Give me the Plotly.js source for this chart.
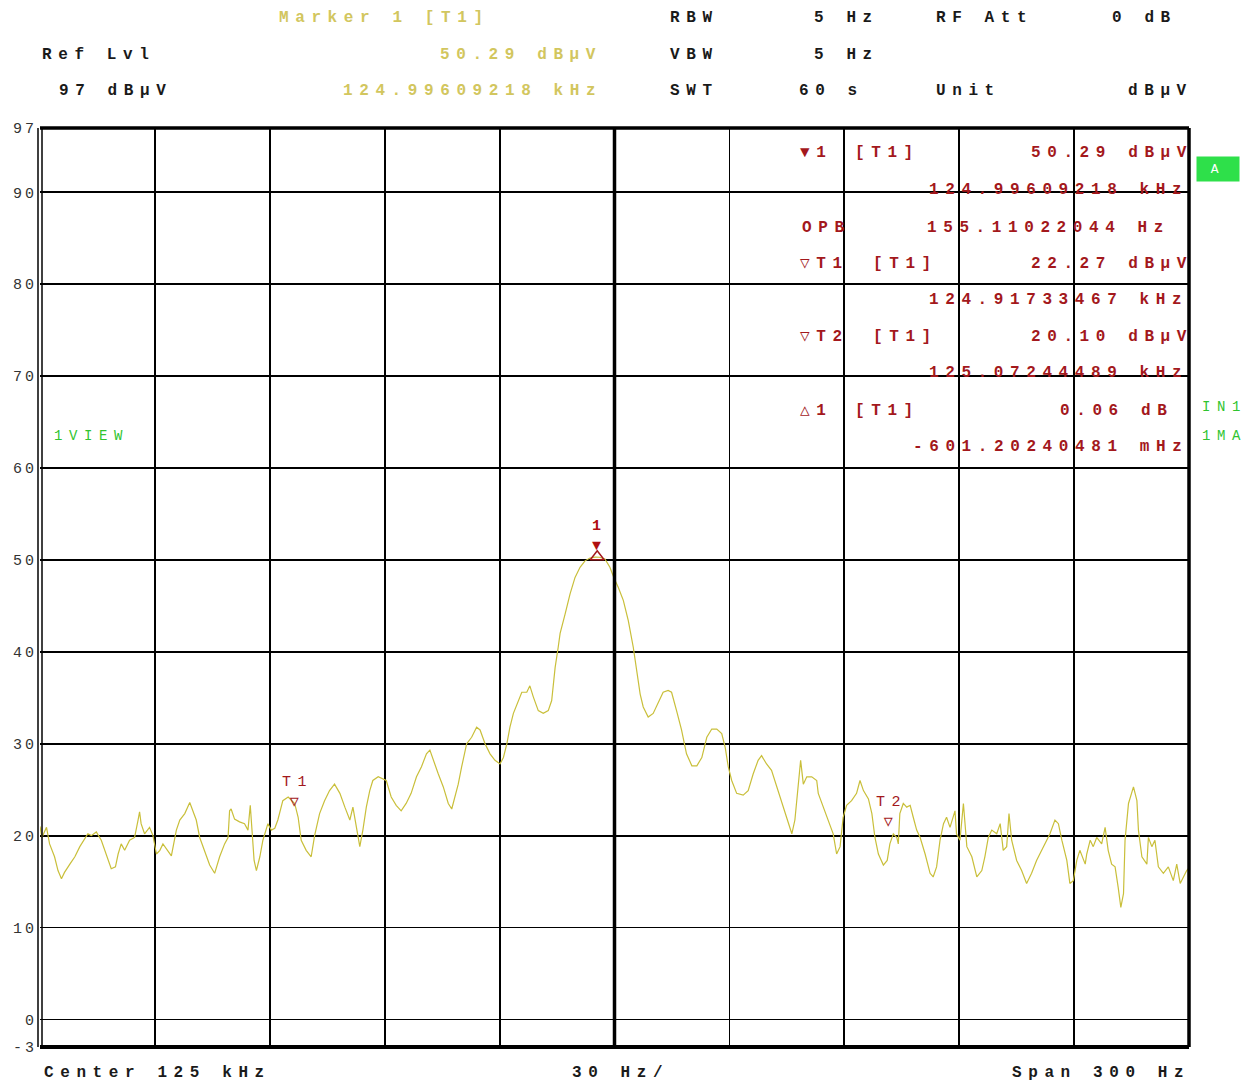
<!DOCTYPE html>
<html><head><meta charset="utf-8">
<script src="https://cdn.plot.ly/plotly-3.0.1.min.js"></script>
<style>
html,body{margin:0;padding:0;background:#fff;}
#chart{width:1247px;height:1086px;}
.annotation-text{letter-spacing:6.6px;}
.ytick text{letter-spacing:3px;}
</style></head><body><div id="chart"></div>
<script>
// Trace: frequency (Hz) and level (dBµV)
const freqHz = [124850.0,124850.5,124851.7,124852.5,124853.8,124854.7,124855.6,124856.4,124857.8,124859.1,124860.4,124861.7,124862.5,124863.4,124864.7,124866.0,124867.3,124868.6,124869.7,124870.4,124871.2,124872.1,124873.4,124874.7,124875.6,124876.0,124876.4,124877.3,124878.6,124879.5,124880.4,124881.3,124882.1,124883.4,124884.3,124885.6,124886.5,124887.8,124889.1,124889.9,124890.8,124891.7,124893.0,124894.3,124895.6,124896.9,124898.2,124899.1,124899.5,124899.9,124900.8,124902.1,124903.4,124904.3,124904.9,124905.2,124905.9,124906.5,124907.4,124908.2,124909.5,124910.4,124911.3,124912.1,124913.4,124914.8,124916.5,124917.4,124918.2,124919.5,124920.8,124921.7,124923.0,124924.3,124925.6,124926.9,124928.3,124929.6,124930.9,124931.7,124932.6,124933.5,124934.3,124935.2,124936.1,124936.9,124938.3,124939.6,124940.4,124941.7,124943.0,124944.3,124945.6,124946.9,124948.3,124949.6,124950.9,
124951.8,124952.7,124954.0,124955.3,124956.6,124957.5,124958.4,124959.2,124960.1,124961.4,124962.7,124964.0,124964.9,124966.2,124967.5,124968.8,124970.1,124971.0,124971.9,124972.7,124973.6,124974.9,124975.8,124977.1,124977.9,124978.8,124980.1,124981.4,124982.7,124983.6,124984.0,124984.5,124985.3,124985.8,124987.1,124988.4,124989.7,124991.0,124992.3,124993.6,124994.9,124996.1,124997.5,124998.8,124999.9,125001.0,125002.3,125003.6,125004.9,125005.8,125006.7,125007.5,125008.8,125010.1,125011.4,125012.7,125014.0,125014.9,125016.2,125017.5,125018.8,125020.2,125021.5,125022.8,125024.1,125025.4,125026.7,125028.0,125028.9,125029.7,125030.6,125031.9,125033.6,125034.9,125036.2,125037.5,125038.4,125039.7,125041.0,125042.4,125043.7,125045.0,125046.3,125047.1,125048.0,125048.6,125049.3,125050.2,125051.5,125052.8,
125053.2,125054.5,125055.8,125057.1,125058.0,125058.9,125059.7,125060.6,125061.9,125063.2,125064.1,125065.0,125066.3,125067.2,125068.0,125068.9,125070.2,125071.2,125071.9,125072.8,125073.7,125074.1,125074.5,125075.4,125076.3,125077.2,125078.0,125078.9,125079.8,125081.1,125082.4,125083.2,125084.1,125085.0,125085.9,125086.7,125087.6,125088.9,125089.3,125090.2,125091.1,125092.0,125093.3,125094.6,125095.9,125096.7,125097.6,125098.5,125099.8,125100.7,125101.5,125102.4,125103.0,125103.7,125105.0,125106.3,125107.6,125108.9,125110.2,125111.5,125112.8,125113.7,125115.0,125115.9,125116.8,125118.1,125118.9,125119.8,125120.7,125121.5,125122.9,125123.3,125124.2,125125.0,125125.9,125127.2,125128.1,125128.9,125129.8,125130.7,125131.5,125132.2,125132.9,125133.3,125134.2,125135.1,125135.5,125136.4,125136.8,125137.7,125139.0,125139.4,125140.3,125141.1,125142.0,125143.3,125144.6,125145.9,125146.8,125147.7,125148.5,125149.4,125150.0];
const levelDbuV = [21.0,19.8,20.9,19.1,17.7,16.2,15.3,16.0,16.9,17.7,18.8,19.7,20.2,20.0,20.4,19.5,18.0,16.4,16.6,18.0,19.1,18.4,19.5,19.8,21.7,22.6,21.3,20.2,20.9,20.0,18.0,18.4,19.1,18.4,17.8,20.6,21.7,22.4,23.6,22.7,21.7,19.8,18.4,16.8,15.9,17.7,19.1,19.8,22.7,22.9,21.8,21.5,21.3,20.6,23.3,21.3,17.3,16.2,17.7,19.5,21.3,20.6,20.8,21.7,23.8,24.2,23.5,22.0,19.5,18.4,17.7,20.0,22.4,23.8,24.9,25.6,24.6,23.1,21.7,23.1,20.9,18.8,20.6,23.1,24.9,26.0,26.4,26.2,26.0,24.2,23.3,22.7,23.5,24.6,26.4,27.5,28.9,
29.3,28.2,26.7,25.3,23.5,22.9,24.2,25.6,27.5,30.0,30.7,31.8,31.5,30.0,28.9,28.2,27.8,28.5,30.0,31.8,33.3,34.7,35.6,35.6,36.3,35.1,33.6,33.3,33.6,34.7,36.2,38.3,40.5,42.0,44.1,46.3,48.1,49.2,49.9,50.2,50.3,50.29,50.1,49.2,48.0,47.0,45.6,43.4,40.5,38.0,35.4,34.0,32.9,33.3,34.4,35.6,35.8,35.6,33.6,31.5,28.9,27.6,27.6,28.5,30.7,31.6,31.6,31.1,29.6,27.5,26.0,24.6,24.4,24.9,26.7,28.2,28.7,27.8,27.1,25.3,23.5,21.7,20.2,21.7,25.3,28.2,25.6,26.4,26.4,26.0,
24.6,23.1,21.7,20.2,18.0,18.8,22.0,23.3,23.8,24.6,26.0,24.9,24.0,22.4,19.8,18.0,16.8,17.3,19.1,20.2,19.8,19.1,22.4,23.5,23.1,23.3,22.0,20.6,19.8,18.0,15.9,15.5,16.6,19.5,21.3,22.0,20.9,22.7,20.2,19.5,23.5,18.8,17.7,15.5,16.2,17.7,19.8,20.6,20.2,21.3,18.4,18.8,22.4,19.5,17.3,16.2,14.8,15.9,17.3,18.4,19.5,20.2,21.7,21.3,19.5,17.3,14.8,15.1,17.3,18.4,16.9,18.0,19.5,18.8,19.8,19.1,20.9,18.4,16.9,16.6,14.4,12.2,13.7,19.5,23.5,24.6,25.3,23.8,20.6,17.7,16.9,19.8,18.8,19.5,16.6,15.9,16.6,15.1,16.9,14.8,15.5,16.2,16.5];

// Markers
const markerFreq = [124996.09218, 124917.33467, 125072.44489];
const markerLevel = [50.29, 22.27, 20.10];
const markerLabel = ['1', 'T1', 'T2'];
const deltaFreq = [124995.49098];
const deltaLevel = [50.35];

// Axis ticks
const xTicks = [124850,124880,124910,124940,124970,125000,125030,125060,125090,125120,125150];
const yTicks = [97,90,80,70,60,50,40,30,20,10,0,-3];
const yTickText = ['97','90','80','70','60','50','40','30','20','10','0','-3'];

const L=40, R=1189, T=128, B=1047;
const X = p => (p-L)/(R-L);
const Y = p => (B-p)/(B-T);
const MONO = 'Liberation Mono, Courier New, monospace';
const BLACK='#1a1a1a', RED='#a3181c', YEL='#d2c65e', GRN='#2fc42f';

function txt(text, px, py, anchor, color, size, bold){
  return {xref:'paper', yref:'paper', x:X(px), y:Y(py), xanchor:anchor, yanchor:'middle',
    text: bold ? '<b>'+text+'</b>' : text, showarrow:false,
    font:{family:MONO, size:size||16, color:color}};
}

const ann = [
  txt('Marker 1 [T1]',277,18,'left',YEL,16,true),
  txt('RBW',668,18,'left',BLACK,16,true),
  txt('5 Hz',812,18,'left',BLACK,16,true),
  txt('RF Att',934,18,'left',BLACK,16,true),
  txt('0 dB',1110,18,'left',BLACK,16,true),
  txt('Ref Lvl',40,55,'left',BLACK,16,true),
  txt('50.29 dBµV',604,55,'right',YEL,16,true),
  txt('VBW',668,55,'left',BLACK,16,true),
  txt('5 Hz',812,55,'left',BLACK,16,true),
  txt('97 dBµV',57,91,'left',BLACK,16,true),
  txt('124.99609218 kHz',604,91,'right',YEL,16,true),
  txt('SWT',668,91,'left',BLACK,16,true),
  txt('60 s',797,91,'left',BLACK,16,true),
  txt('Unit',934,91,'left',BLACK,16,true),
  txt('dBµV',1195,91,'right',BLACK,16,true),

  txt('▼1',798,153,'left',RED,16,true),
  txt('[T1]',853,153,'left',RED,16,true),
  txt('50.29 dBµV',1195,153,'right',RED,16,true),
  txt('124.99609218 kHz',1190,190,'right',RED,16,true),
  txt('OPB',800,228,'left',RED,16,true),
  txt('155.11022044 Hz',1172,228,'right',RED,16,true),
  txt('▽T1',798,264,'left',RED,16,true),
  txt('[T1]',871,264,'left',RED,16,true),
  txt('22.27 dBµV',1195,264,'right',RED,16,true),
  txt('124.91733467 kHz',1190,300,'right',RED,16,true),
  txt('▽T2',798,337,'left',RED,16,true),
  txt('[T1]',871,337,'left',RED,16,true),
  txt('20.10 dBµV',1195,337,'right',RED,16,true),
  txt('125.07244489 kHz',1190,373,'right',RED,16,true),
  txt('△1',798,411,'left',RED,16,true),
  txt('[T1]',853,411,'left',RED,16,true),
  txt('0.06 dB',1175,411,'right',RED,16,true),
  txt('-601.20240481 mHz',1190,447,'right',RED,16,true),

  txt('1VIEW',52,436,'left',GRN,14,false),
  txt('IN1',1200,407,'left',GRN,14,false),
  txt('1MA',1200,436,'left',GRN,14,false),
  {xref:'paper',yref:'paper',x:X(1218),y:Y(169),xanchor:'center',yanchor:'middle',text:'A',showarrow:false,
   bgcolor:'#2ee04a',width:40,height:22,font:{family:MONO,size:13,color:'#ffffff'}},

  txt('Center 125 kHz',42,1073,'left',BLACK,16,true),
  txt('30 Hz/',570,1073,'left',BLACK,16,true),
  txt('Span 300 Hz',1192,1073,'right',BLACK,16,true)
];

// marker labels on the trace
ann.push({x:markerFreq[0], y:markerLevel[0], xref:'x', yref:'y', xanchor:'center', yanchor:'bottom', showarrow:false,
  text:'<b>'+markerLabel[0]+'</b><br>▼', font:{family:MONO,size:15,color:'#b01010'}, yshift:0});
ann.push({x:markerFreq[1], y:markerLevel[1], xref:'x', yref:'y', xanchor:'center', yanchor:'bottom', showarrow:false,
  text:markerLabel[1]+'<br>▽', font:{family:MONO,size:15,color:RED}, yshift:2});
ann.push({x:markerFreq[2], y:markerLevel[2], xref:'x', yref:'y', xanchor:'center', yanchor:'bottom', showarrow:false,
  text:markerLabel[2]+'<br>▽', font:{family:MONO,size:15,color:RED}, yshift:2});

const shapes = [
  {type:'line',xref:'x',yref:'paper',x0:125000,x1:125000,y0:0,y1:1,line:{color:'#000',width:3.5}},
  {type:'line',xref:'paper',yref:'paper',x0:0,x1:1,y0:1,y1:1,line:{color:'#000',width:3.5}},
  {type:'line',xref:'paper',yref:'paper',x0:0,x1:1,y0:0,y1:0,line:{color:'#000',width:4}},
  {type:'line',xref:'paper',yref:'paper',x0:1,x1:1,y0:0,y1:1,line:{color:'#000',width:3.5}},
  {type:'line',xref:'paper',yref:'paper',x0:X(38),x1:X(38),y0:0,y1:1,line:{color:'#000',width:1.5}},
  {type:'line',xref:'paper',yref:'paper',x0:X(42),x1:X(42),y0:0,y1:1,line:{color:'#000',width:1.5}}
];

const traces = [
  {x:freqHz, y:levelDbuV, type:'scatter', mode:'lines', line:{color:'#c9bf3a', width:1.2}, hoverinfo:'skip'},
  {x:deltaFreq, y:deltaLevel, type:'scatter', mode:'markers',
   marker:{symbol:'triangle-up-open', size:12, color:RED, line:{width:1.5, color:RED}}, hoverinfo:'skip'}
];

const layout = {
  width:1247, height:1086,
  margin:{l:L, r:1247-R, t:T, b:1086-B, pad:0},
  paper_bgcolor:'#ffffff', plot_bgcolor:'#ffffff',
  showlegend:false,
  xaxis:{range:[124850,125150], tickvals:xTicks, showticklabels:false, ticks:'',
    showgrid:true, gridcolor:'#000', gridwidth:1.8, zeroline:false, showline:false, fixedrange:true},
  yaxis:{range:[-3,97], tickvals:yTicks, ticktext:yTickText, ticks:'',
    showgrid:true, gridcolor:'#000', gridwidth:1.8, zeroline:false, showline:false, fixedrange:true,
    tickfont:{family:MONO, size:15, color:'#333'}, ticklabelstandoff:2},
  annotations:ann,
  shapes:shapes
};

Plotly.newPlot('chart', traces, layout, {staticPlot:true, displayModeBar:false});
</script></body></html>
